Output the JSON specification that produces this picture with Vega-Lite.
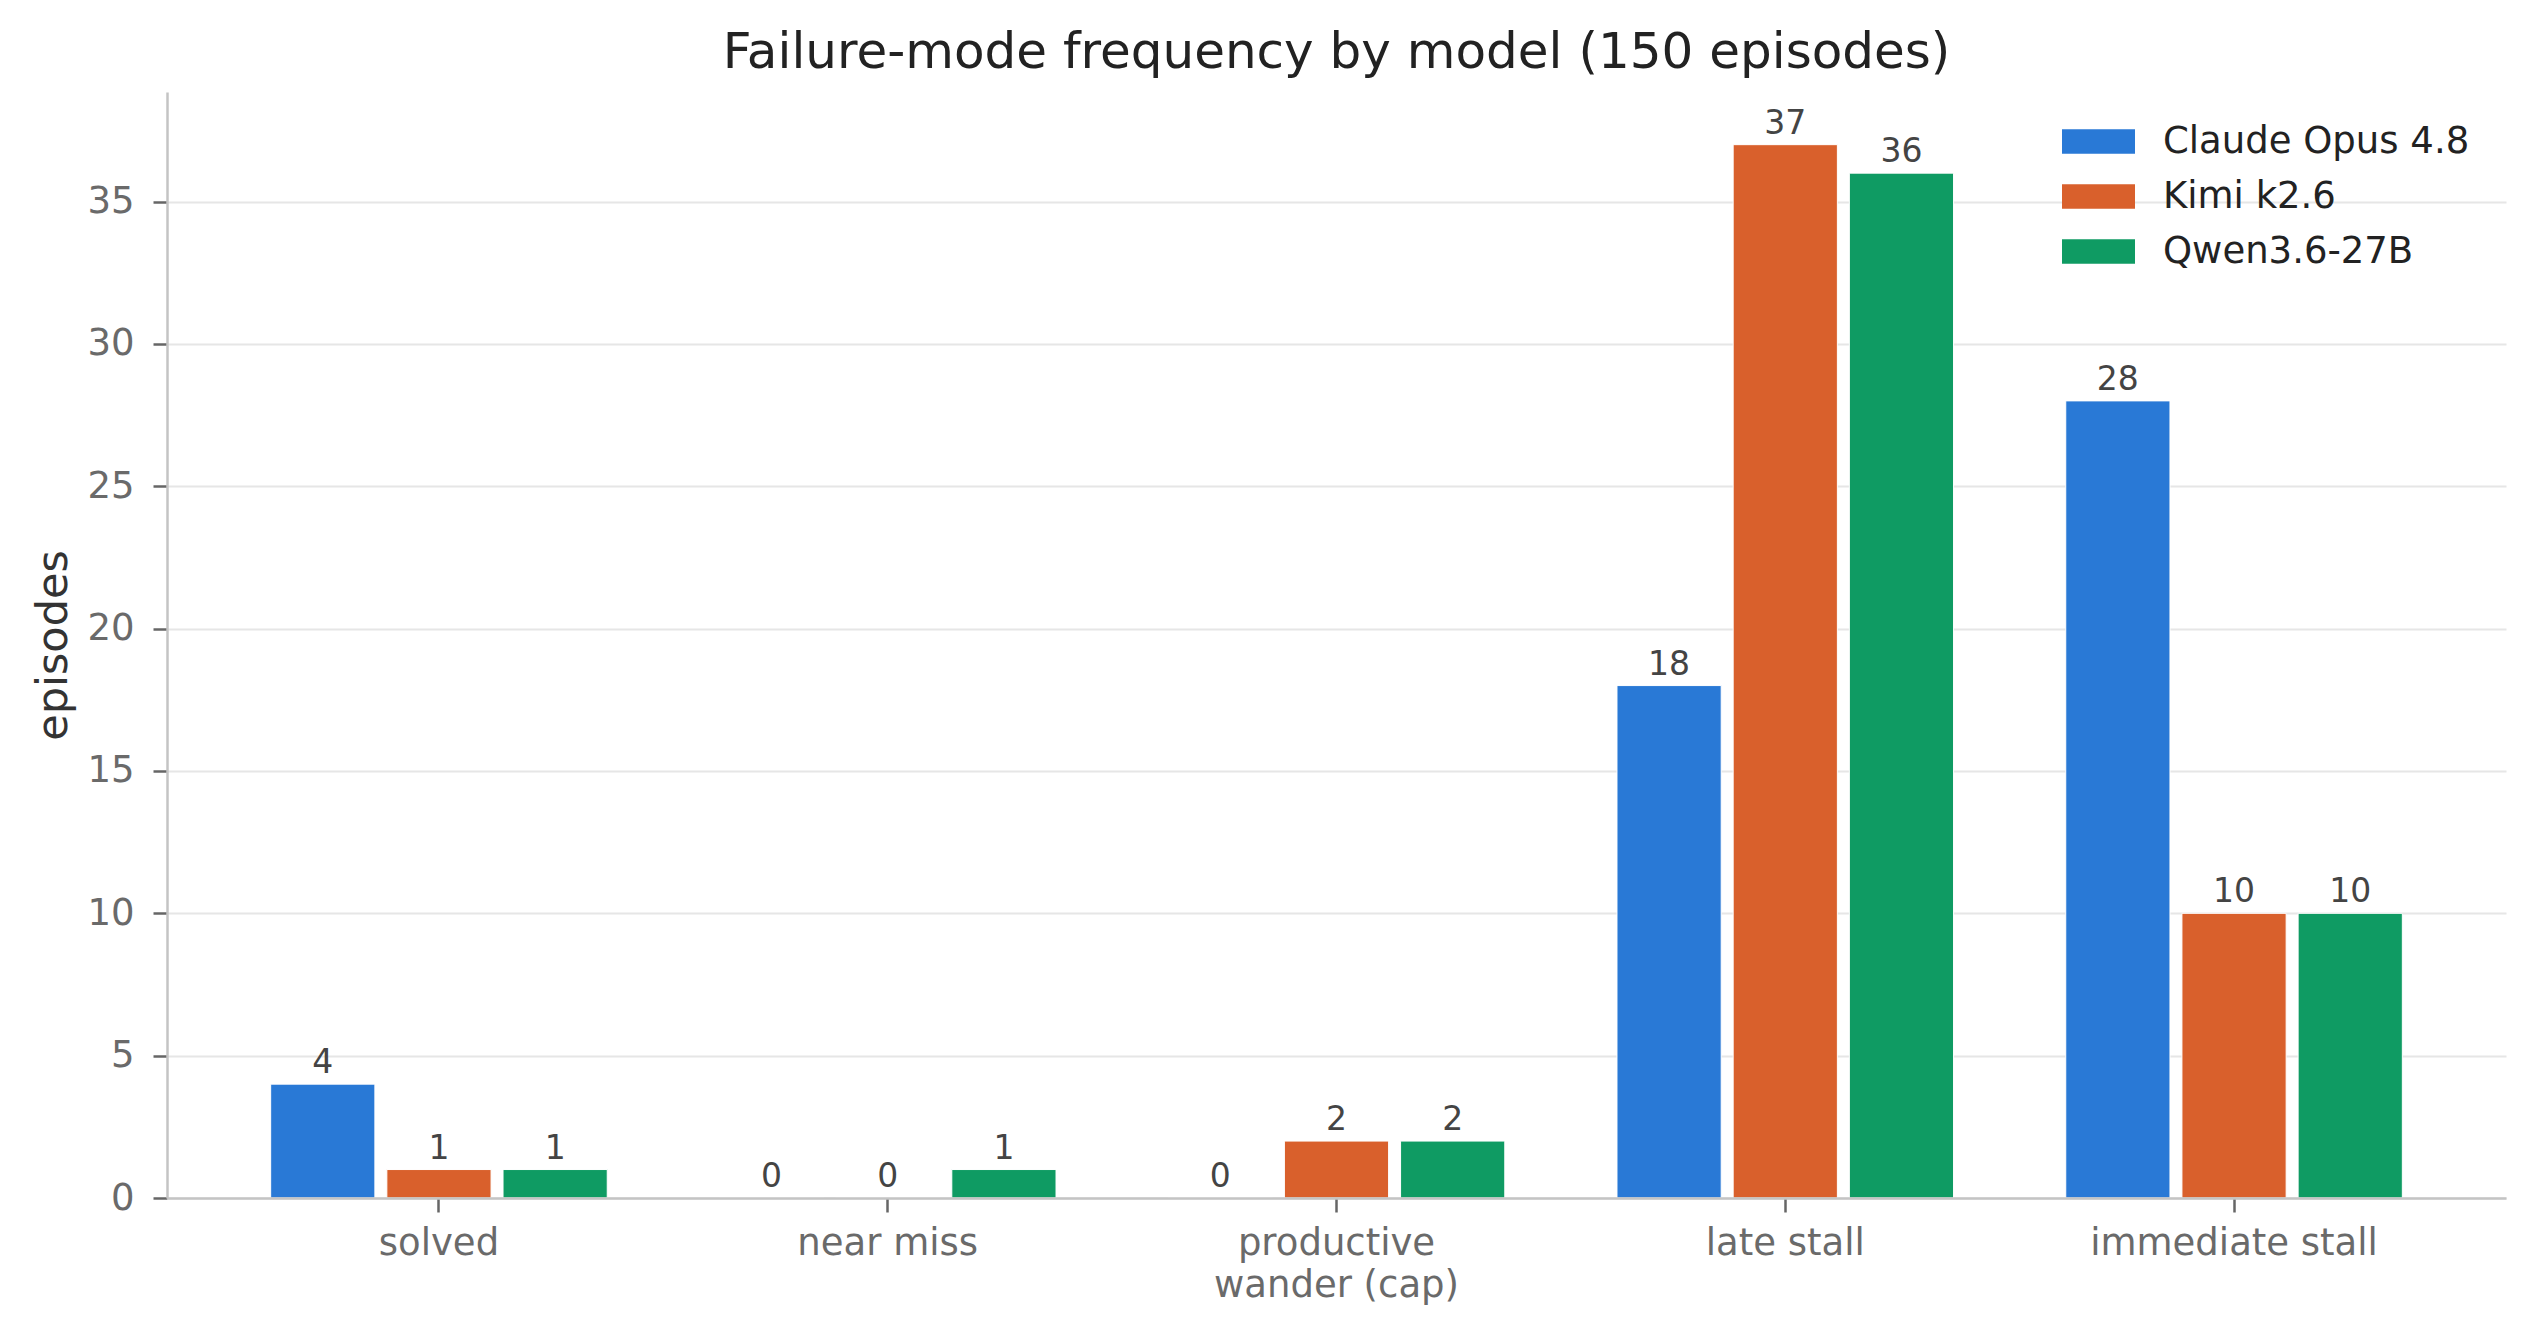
{
  "$schema": "https://vega.github.io/schema/vega-lite/v6.json",
  "autosize": {"type": "none"},
  "width": 2339,
  "height": 1106,
  "padding": {"left": 167, "top": 92, "right": 30, "bottom": 134},
  "background": "white",
  "title": {
    "text": "Failure-mode frequency by model (150 episodes)",
    "font": "DejaVu Sans",
    "fontSize": 50,
    "fontWeight": "normal",
    "color": "#222222",
    "anchor": "middle",
    "baseline": "alphabetic",
    "offset": -26,
    "limit": 0
  },
  "config": {"view": {"stroke": null}, "font": "DejaVu Sans"},
  "data": {
    "values": [
      {"mode": "solved", "model": "Claude Opus 4.8", "episodes": 4},
      {"mode": "solved", "model": "Kimi k2.6", "episodes": 1},
      {"mode": "solved", "model": "Qwen3.6-27B", "episodes": 1},
      {"mode": "near miss", "model": "Claude Opus 4.8", "episodes": 0},
      {"mode": "near miss", "model": "Kimi k2.6", "episodes": 0},
      {"mode": "near miss", "model": "Qwen3.6-27B", "episodes": 1},
      {"mode": "productive wander (cap)", "model": "Claude Opus 4.8", "episodes": 0},
      {"mode": "productive wander (cap)", "model": "Kimi k2.6", "episodes": 2},
      {"mode": "productive wander (cap)", "model": "Qwen3.6-27B", "episodes": 2},
      {"mode": "late stall", "model": "Claude Opus 4.8", "episodes": 18},
      {"mode": "late stall", "model": "Kimi k2.6", "episodes": 37},
      {"mode": "late stall", "model": "Qwen3.6-27B", "episodes": 36},
      {"mode": "immediate stall", "model": "Claude Opus 4.8", "episodes": 28},
      {"mode": "immediate stall", "model": "Kimi k2.6", "episodes": 10},
      {"mode": "immediate stall", "model": "Qwen3.6-27B", "episodes": 10}
    ]
  },
  "encoding": {
    "x": {
      "field": "mode",
      "type": "nominal",
      "sort": ["solved", "near miss", "productive wander (cap)", "late stall", "immediate stall"],
      "scale": {"paddingInner": 0.25, "paddingOuter": 0.231},
      "axis": {
        "title": null,
        "labelAngle": 0,
        "labelFont": "DejaVu Sans",
        "labelFontSize": 37,
        "labelColor": "#6a6a6a",
        "labelPadding": 13,
        "labelLineHeight": 42,
        "labelLimit": 0,
        "labelExpr": "datum.label == 'productive wander (cap)' ? ['productive', 'wander (cap)'] : datum.label",
        "tickSize": 14,
        "tickWidth": 2.5,
        "tickColor": "#666666",
        "domainColor": "#c4c4c4",
        "domainWidth": 2.5,
        "grid": false,
        "zindex": 1
      }
    },
    "xOffset": {
      "field": "model",
      "type": "nominal",
      "sort": ["Claude Opus 4.8", "Kimi k2.6", "Qwen3.6-27B"],
      "scale": {"paddingInner": 0.103, "paddingOuter": 0}
    },
    "y": {
      "field": "episodes",
      "type": "quantitative",
      "scale": {"domain": [0, 38.85], "nice": false, "zero": true},
      "axis": {
        "title": "episodes",
        "titleFont": "DejaVu Sans",
        "titleFontSize": 43,
        "titleFontWeight": "normal",
        "titleColor": "#333333",
        "titleAngle": -90,
        "titleX": -114,
        "titleY": 553,
        "titleAlign": "center",
        "titleBaseline": "middle",
        "values": [0, 5, 10, 15, 20, 25, 30, 35],
        "labelFont": "DejaVu Sans",
        "labelFontSize": 37,
        "labelColor": "#6a6a6a",
        "labelPadding": 19,
        "tickSize": 14,
        "tickWidth": 2.5,
        "tickColor": "#666666",
        "domainColor": "#c4c4c4",
        "domainWidth": 2.5,
        "gridColor": "#e6e6e6",
        "gridWidth": 2
      }
    }
  },
  "layer": [
    {
      "mark": {"type": "bar", "stroke": "white", "strokeWidth": 1},
      "encoding": {
        "color": {
          "field": "model",
          "type": "nominal",
          "scale": {
            "domain": ["Claude Opus 4.8", "Kimi k2.6", "Qwen3.6-27B"],
            "range": ["#2979d6", "#d9602c", "#0f9b63"]
          },
          "legend": {
            "orient": "none",
            "legendX": 1913,
            "legendY": 31,
            "title": null,
            "padding": 0,
            "symbolType": "M-2.92,-0.984H2.92V0.984H-2.92Z",
            "symbolSize": 625,
            "symbolStrokeWidth": 0,
            "symbolOpacity": 1,
            "labelFont": "DejaVu Sans",
            "labelFontSize": 37,
            "labelColor": "#222222",
            "labelOffset": 46,
            "labelLimit": 0,
            "rowPadding": 17
          }
        }
      }
    },
    {
      "mark": {"type": "text", "baseline": "alphabetic", "dy": -11, "fontSize": 33, "font": "DejaVu Sans", "color": "#444444"},
      "encoding": {
        "text": {"field": "episodes", "type": "quantitative"}
      }
    }
  ]
}
